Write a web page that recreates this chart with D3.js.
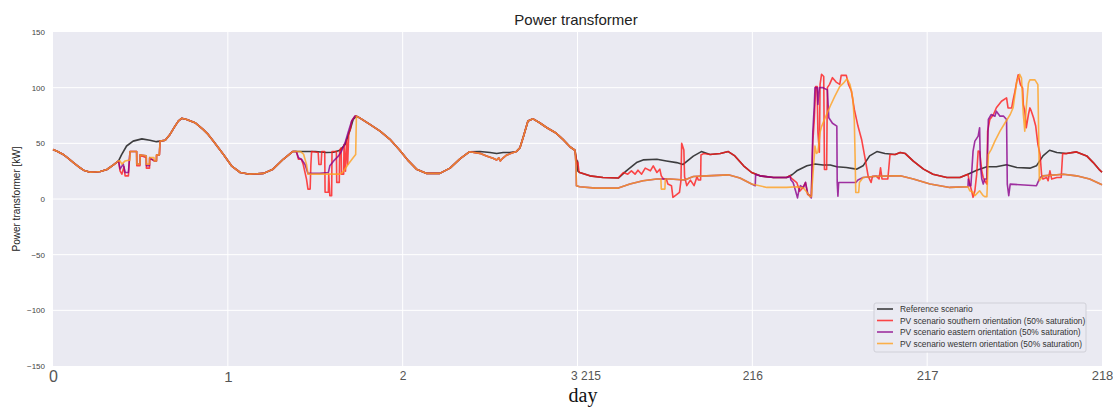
<!DOCTYPE html>
<html>
<head>
<meta charset="utf-8">
<script src="https://cdn.jsdelivr.net/npm/d3@7"></script>
<style>
  body { margin: 0; background: #fff; }
  svg text { font-family: "Liberation Sans", Arial, sans-serif; }
</style>
</head>
<body>
<script>
// hours from the start of the plotted window (0-72 = days 0-3, 72-144 = days 215-218)
const leftDays = [0, 1, 2, 3];
const rightDays = [215, 216, 217, 218];
const yTicks = [-150, -100, -50, 0, 50, 100, 150];

const seriesNames = [
    'Reference scenario',
    'PV scenario southern orientation (50% saturation)',
    'PV scenario eastern orientation (50% saturation)',
    'PV scenario western orientation (50% saturation)'
];

// segments shared by all four scenarios (days 0-3)
const shared0 = [[0,44.5],[0.7,42.5],[1.4,40],[2.1,36.5],[2.8,32.7],[3.5,29],[4.2,25.9],[5.1,24.1],[5.8,24.3],[6.5,24.7],[7.4,26.5],[8.3,30.7],[9.0,34.2]];
const shared1 = [[15.4,52.7],[16.06,58],[16.75,65.5],[17.2,70],[17.66,72.5],[18.35,71.4],[19.5,68.5],[20.6,62.5],[21.3,58],[22.0,52],[22.7,46],[23.4,40],[24.5,29.8],[25.7,23.8],[27.0,22.3],[28.9,23],[30.2,26.8],[31.6,35.7],[32.9,42.6]];
const shared2 = [[42.1,72.9],[43.5,67],[44.9,61],[46.25,53.6],[47.6,43.8],[48.8,34.2],[49.9,26.8],[51.3,23],[53.1,23],[54.5,27.7],[55.9,36.3],[57.2,42.5]];
const shared3 = [[64.1,46],[64.6,56.5],[65.2,70],[65.9,72],[66.8,68.5],[67.8,64],[69.1,59],[70.0,53.6],[71.0,46.7],[71.65,43.8]];

// daytime parts, days 0-3
const refDay0 = [[9.4,39.6],[10.1,47.6],[11.0,52],[12.2,54],[13.3,52.7],[14.2,51.5],[14.7,52]];
const southDay0 = [[9.2,25.3],[9.45,22.3],[9.75,28.9],[9.9,20.8],[10.35,20.8],[10.45,31.3],[10.57,42.6],[11.48,42.6],[11.5,29.8],[11.94,29.8],[11.96,39.6],[12.8,37],[12.82,27.7],[13.25,27.7],[13.27,36.6],[13.9,34.2],[14.2,34.2],[14.22,39.6],[14.6,39.6],[14.7,52]];
const eastDay0 = [[9.2,27],[9.65,31.3],[9.9,23.8],[10.35,23.8],[10.57,42.6],[11.48,42.6],[11.5,31.3],[11.94,31.3],[11.96,39.6],[12.8,38.7],[12.82,30],[13.25,30],[13.27,37.2],[13.9,34.2],[14.2,34.2],[14.22,39.6],[14.6,39.6],[14.7,52]];
const westDay0 = [[9.2,34.2],[9.45,31.3],[9.9,34.2],[10.35,34.8],[10.55,34.8],[10.57,42.6],[11.48,42.6],[11.5,31.3],[11.94,31.3],[11.96,39.6],[12.8,38.7],[12.82,31.3],[13.25,31.3],[13.27,37.2],[13.86,37.2],[13.9,34.2],[14.2,34.2],[14.22,39.6],[14.6,39.6],[14.7,52]];

const refDay1 = [[34.5,42.6],[36.0,42.6],[37.5,41.7],[38.5,42],[39.4,43.8],[40.1,49],[40.8,62.5],[41.2,71.4],[41.65,74.4]];
const southDay1 = [[33.4,42.6],[33.7,35.7],[34.1,35.7],[34.35,31],[34.8,17.9],[35.0,8.9],[35.3,8.9],[35.4,31],[35.5,42.6],[36.4,41.7],[36.5,31],[36.8,31],[36.9,42.6],[37.3,42.6],[37.35,6],[37.8,6],[37.85,22.3],[38.0,3],[38.25,3],[38.3,42.6],[38.9,42.6],[38.95,14.9],[39.3,14.9],[39.35,43.8],[39.55,46],[39.6,22.3],[39.9,22.3],[39.95,49],[40.15,25],[40.3,53.6],[40.45,31],[40.6,59.5],[40.8,62],[41.0,70],[41.45,74.4],[41.65,74.4]];
const eastDay1 = [[33.4,42.6],[33.7,37],[34.1,35.7],[34.6,31],[35.0,23],[36.6,23],[37.8,23.8],[38.0,29.8],[38.5,34],[39.2,38.7],[39.6,43],[40.1,50.6],[40.5,59.5],[41.0,70],[41.45,74.4],[41.65,74.4]];
const westDay1 = [[34.0,42.6],[34.4,40.2],[34.8,31],[35.0,22.3],[39.4,22.3],[39.85,24.7],[40.5,31],[41.2,37],[41.55,40],[41.65,74.4]];

const refDay2 = [[58.6,42.6],[60.0,41.7],[60.9,40.8],[61.8,41.7],[62.7,41.7],[63.6,42.6]];
const pvDay2 = [[58.6,41],[59.5,38.7],[60.4,36.6],[60.9,35],[61.2,37],[61.4,34.2],[61.8,37],[62.3,39.6],[63.2,41.7],[63.6,42.6]];

// days 215-218
const ref215 = [[71.95,31],[72.0,34],[72.05,25],[72.3,23.8],[73.7,20.8],[75.5,19.3],[77.6,18.8],[78.7,25.3],[80.1,32.7],[81.0,35.1],[82.9,35.7],[84.2,34.2],[85.6,32.7],[86.5,31],[87.9,38.5],[89.0,42.6],[90.2,40],[91.6,40.8],[92.7,42.6],[93.6,38.7],[94.8,29.8],[95.9,23.8],[97.05,20.8],[98.9,19.3],[100.7,19.3],[101.5,22],[102.1,25.3],[103.5,29.8],[104.6,31.5],[105.7,30.5],[106.7,30.5],[107.6,28.9],[108.9,28.3],[110.3,26.8],[111.2,29.8],[112.1,38.7],[113.1,42.6],[114.2,40.8],[115.6,40],[116.3,41.7],[117.0,40.8],[118.1,34],[119.5,26.8],[120.8,22.3],[122.7,19.3],[124.5,19.3],[125.6,22.3],[126.8,25.9],[128.2,28.9],[129.5,29],[130.9,30.7],[132.3,28.3],[134.1,27.7],[135.0,29.8],[135.9,38.7],[136.8,43.8],[137.8,41.7],[139.1,40.8],[140.5,42.3],[141.9,38.7],[142.8,32.7],[143.7,25.9],[144,24]];
const south215 = [[71.95,31],[72.05,32.7],[72.2,24.7],[72.3,23.8],[73.7,20.8],[75.5,19.3],[77.6,18.8],[78.3,23.8],[78.9,22.3],[79.4,25.3],[79.9,22.3],[80.3,25.9],[80.8,22.3],[81.3,27.7],[82.0,25.3],[82.4,29.8],[82.9,23.8],[83.3,26.8],[83.5,20.8],[83.8,17.9],[84.2,17.9],[84.4,13.4],[84.9,12],[85.1,1.5],[85.6,3.9],[86.0,6],[86.2,16.4],[86.3,50],[86.6,44],[86.7,20],[87.0,12],[87.5,17],[88.0,12],[88.4,20],[88.6,17],[88.9,17],[88.95,39.5],[89.3,40.8],[90.2,40],[91.6,40.8],[92.7,42.6],[93.6,38.7],[94.8,29.8],[95.9,23.8],[97.05,20.8],[98.9,19.3],[100.7,19.3],[101.2,21],[101.3,19],[102.1,14.8],[102.5,7],[102.9,10],[103.3,14.8],[103.6,4],[104.1,2.5],[104.3,51],[104.5,71],[104.7,101],[104.9,101],[105.0,60],[105.2,42],[105.3,103],[105.5,112],[105.8,110],[105.9,26.5],[106.2,26.5],[106.3,100],[106.6,103],[107.0,109],[107.5,105],[108.0,103],[108.2,111],[108.9,111],[109.2,103],[109.6,97],[110.0,80.5],[110.5,65.5],[111.0,53.5],[111.5,35.5],[111.9,20.5],[112.3,14.8],[112.5,20.5],[113.0,20.5],[113.4,18],[113.6,28],[113.8,18],[114.6,18],[114.9,40],[115.6,40],[116.3,41.7],[117.0,40.8],[118.1,34],[119.5,26.8],[120.8,22.3],[122.7,19.3],[124.5,19.3],[125.6,22.3],[125.85,13.4],[126.1,7.4],[126.3,1.5],[126.55,7.4],[126.8,22.3],[127.0,43],[127.2,42.6],[127.5,25.3],[127.7,19.3],[127.9,16.4],[128.2,13.4],[128.3,61],[128.6,71.4],[129.1,75.9],[129.5,82],[130.2,87.8],[130.9,90.8],[131.1,81.8],[131.6,81.8],[131.8,89],[132.05,96.7],[132.3,105.7],[132.5,111.6],[132.8,102.7],[133.1,99.7],[133.2,84.8],[133.4,79],[133.6,64],[133.9,75.9],[134.1,81.8],[134.3,78.9],[134.6,73],[134.9,65.5],[135.2,49],[135.5,40],[135.7,22.3],[135.9,17.9],[136.4,19.3],[136.6,16.4],[136.85,25.3],[137.1,17.9],[137.8,19.3],[138.4,19.3],[138.6,40.8],[139.1,40.8],[140.5,42.3],[141.9,38.7],[142.8,32.7],[143.7,25.9],[144,24]];
const east215 = [[71.8,31],[71.85,11.9],[72.3,11],[74.5,9.8],[77.6,9.8],[79.2,13.4],[81.0,16.4],[82.9,17.9],[84.7,17.9],[86.7,17],[87.9,20.2],[89.7,20.8],[92.7,21.7],[94.3,18.8],[95.9,13.4],[96.4,12],[96.45,22],[97.05,20.8],[98.9,19.3],[100.7,19.3],[101.2,20],[101.3,17],[101.6,14.8],[101.9,8],[102.2,1],[102.4,8],[102.6,12],[103.0,10],[103.3,15],[103.6,5],[104.1,1],[104.3,60],[104.5,83.5],[104.6,100],[104.9,100],[105.0,85],[105.2,100],[105.7,100],[106.3,98],[106.5,73],[107.0,68],[107.6,65.5],[107.65,14.8],[107.75,2.5],[107.85,14.8],[110.2,14.8],[110.5,17],[111.2,19.3],[113.0,20.5],[115.6,20.8],[116.3,20.8],[118.1,17.9],[120.4,13.4],[123.1,10.4],[125.6,11],[125.65,17.9],[125.85,11.9],[126.0,11.9],[126.3,43],[126.55,52],[127.0,56.5],[127.2,64],[127.3,31],[127.5,17.9],[127.7,13.4],[127.9,17.9],[128.2,17.9],[128.4,71.4],[128.8,75.9],[129.3,74.4],[129.5,78.9],[130.0,74.4],[130.5,74.4],[130.9,71.4],[131.0,13.4],[131.2,3],[131.4,13.4],[135.0,11.9],[135.2,14.9],[135.5,19.3],[135.9,20.8],[138.7,22.3],[140.5,20.8],[142.3,17.9],[144,12.8]];
const west215 = [[71.8,31],[71.85,11.9],[72.3,11],[74.5,9.8],[77.6,9.8],[79.2,13.4],[81.0,16.4],[82.9,17.9],[83.45,17.9],[83.5,8.9],[84.0,8.9],[84.05,17.9],[84.7,17.9],[86.7,17],[87.9,20.2],[89.7,20.8],[92.7,21.7],[94.3,18.8],[95.9,13.4],[98.0,10.4],[100.7,10.4],[102.1,11],[103.0,9.8],[103.5,6],[103.9,2.1],[104.1,2.1],[104.3,20],[104.6,47.5],[104.8,41],[105.0,42],[105.3,60],[105.5,65],[106.0,73],[106.7,83.5],[107.3,92],[108.0,101],[108.5,104],[109.0,108],[109.4,103],[109.6,97],[109.8,90],[110.0,70],[110.1,40],[110.2,5.8],[110.6,5.8],[110.7,14.8],[111.2,19.3],[113.0,20.5],[115.6,20.8],[116.3,20.8],[118.1,17.9],[120.4,13.4],[123.1,10.4],[125.6,11],[125.85,7.4],[126.3,6],[126.55,3],[127.2,7.4],[127.7,3],[127.9,2.1],[128.2,2.1],[128.4,40],[128.8,44.6],[129.3,52],[130.0,61],[130.7,68.5],[131.4,75.9],[131.8,82],[132.3,105.7],[132.7,112],[132.95,108.6],[133.2,75.9],[133.4,61],[133.6,82],[133.9,104],[134.1,107],[134.8,107],[135.2,102.7],[135.3,61],[135.4,16.4],[135.9,20.8],[138.7,22.3],[140.5,20.8],[142.3,17.9],[144,12.8]];

const colors = ['#111111', '#ff1a1a', '#8b008b', '#ffa01e'];

// each scenario: shared night segments + its own daytime segments
const series = [
    [shared0, refDay0, shared1, refDay1, shared2, refDay2, shared3, ref215],
    [shared0, southDay0, shared1, southDay1, shared2, pvDay2, shared3, south215],
    [shared0, eastDay0, shared1, eastDay1, shared2, pvDay2, shared3, east215],
    [shared0, westDay0, shared1, westDay1, shared2, pvDay2, shared3, west215]
].map((parts, i) => ({ name: seriesNames[i], color: colors[i], values: parts.flat() }));

const W = 1113, H = 407;
const plot = { left: 53, right: 1102, top: 32, bottom: 366 };

const svg = d3.select('body').append('svg')
    .attr('width', W)
    .attr('height', H);

const x = d3.scaleLinear().domain([0, 144]).range([plot.left, plot.right]);
const y = d3.scaleLinear().domain([-150, 150]).range([plot.bottom, plot.top]);

// background + grid
svg.append('rect')
   .attr('x', plot.left).attr('y', plot.top)
   .attr('width', plot.right - plot.left)
   .attr('height', plot.bottom - plot.top)
   .attr('fill', '#eaeaf2');

const xTickPos = leftDays.map(d => d * 24).concat(rightDays.slice(1).map(d => (d - 215 + 3) * 24));

svg.append('g')
   .selectAll('line')
   .data(xTickPos.filter(t => t > 0 && t < 144))
   .enter().append('line')
   .attr('x1', d => x(d)).attr('x2', d => x(d))
   .attr('y1', plot.top).attr('y2', plot.bottom)
   .attr('stroke', '#fff').attr('stroke-width', 1);

svg.append('g')
   .selectAll('line')
   .data(yTicks.filter(t => t > -150 && t < 150))
   .enter().append('line')
   .attr('x1', plot.left).attr('x2', plot.right)
   .attr('y1', d => y(d)).attr('y2', d => y(d))
   .attr('stroke', '#fff').attr('stroke-width', 1);

// lines
const line = d3.line()
    .x(d => x(d[0]))
    .y(d => y(d[1]));

svg.append('g')
   .selectAll('path')
   .data(series)
   .enter().append('path')
   .attr('d', d => line(d.values))
   .attr('fill', 'none')
   .attr('stroke', d => d.color)
   .attr('stroke-width', 1.6)
   .attr('stroke-opacity', 0.8)
   .attr('stroke-linejoin', 'round');

// y axis
const yAxis = d3.axisLeft(y).tickValues(yTicks).tickSize(0).tickPadding(8);
svg.append('g')
   .attr('transform', 'translate(' + plot.left + ',0)')
   .call(yAxis)
   .call(g => g.select('.domain').remove())
   .selectAll('text')
   .attr('fill', '#444')
   .style('font-size', '8px');

// x axis: days 0..3 then 215..218 on one continuous axis
const xLabels = ['0', '1', '2', '3 215', '216', '217', '218'];
const xSizes = [16, 15, 12, 12, 12, 13, 13];
const xAxis = d3.axisBottom(x)
    .tickValues(xTickPos)
    .tickSize(0)
    .tickPadding(5)
    .tickFormat((d, i) => xLabels[i]);

svg.append('g')
   .attr('transform', 'translate(0,' + plot.bottom + ')')
   .call(xAxis)
   .call(g => g.select('.domain').remove())
   .selectAll('text')
   .attr('fill', '#555')
   .attr('dx', (d, i) => i === 3 ? 8 : 0)
   .style('font-size', (d, i) => xSizes[i] + 'px');

// titles
svg.append('text')
   .attr('x', 576).attr('y', 25)
   .attr('text-anchor', 'middle')
   .style('font-size', '15px')
   .attr('fill', '#222')
   .text('Power transformer');

svg.append('text')
   .attr('transform', 'translate(20,' + y(0) + ') rotate(-90)')
   .attr('text-anchor', 'middle')
   .style('font-size', '10px')
   .attr('fill', '#222')
   .text('Power transformer [kW]');

svg.append('text')
   .attr('x', 583).attr('y', 402)
   .attr('text-anchor', 'middle')
   .style('font-family', '"Liberation Serif", "DejaVu Serif", serif')
   .style('font-size', '20px')
   .attr('fill', '#111')
   .text('day');

// legend
const legend = svg.append('g').attr('transform', 'translate(874,303)');
legend.append('rect')
      .attr('width', 212).attr('height', 49)
      .attr('rx', 2)
      .attr('fill', '#eaeaf2')
      .attr('stroke', '#d0d0d8');

const rows = legend.selectAll('g')
    .data(series)
    .enter().append('g')
    .attr('transform', (d, i) => 'translate(0,' + (6 + i * 11.5) + ')');

rows.append('line')
    .attr('x1', 3).attr('x2', 19)
    .attr('stroke', d => d.color)
    .attr('stroke-opacity', 0.8)
    .attr('stroke-width', 1.6);

rows.append('text')
    .attr('x', 26).attr('y', 3)
    .style('font-size', '8.4px')
    .attr('fill', '#333')
    .text(d => d.name);
</script>
</body>
</html>
